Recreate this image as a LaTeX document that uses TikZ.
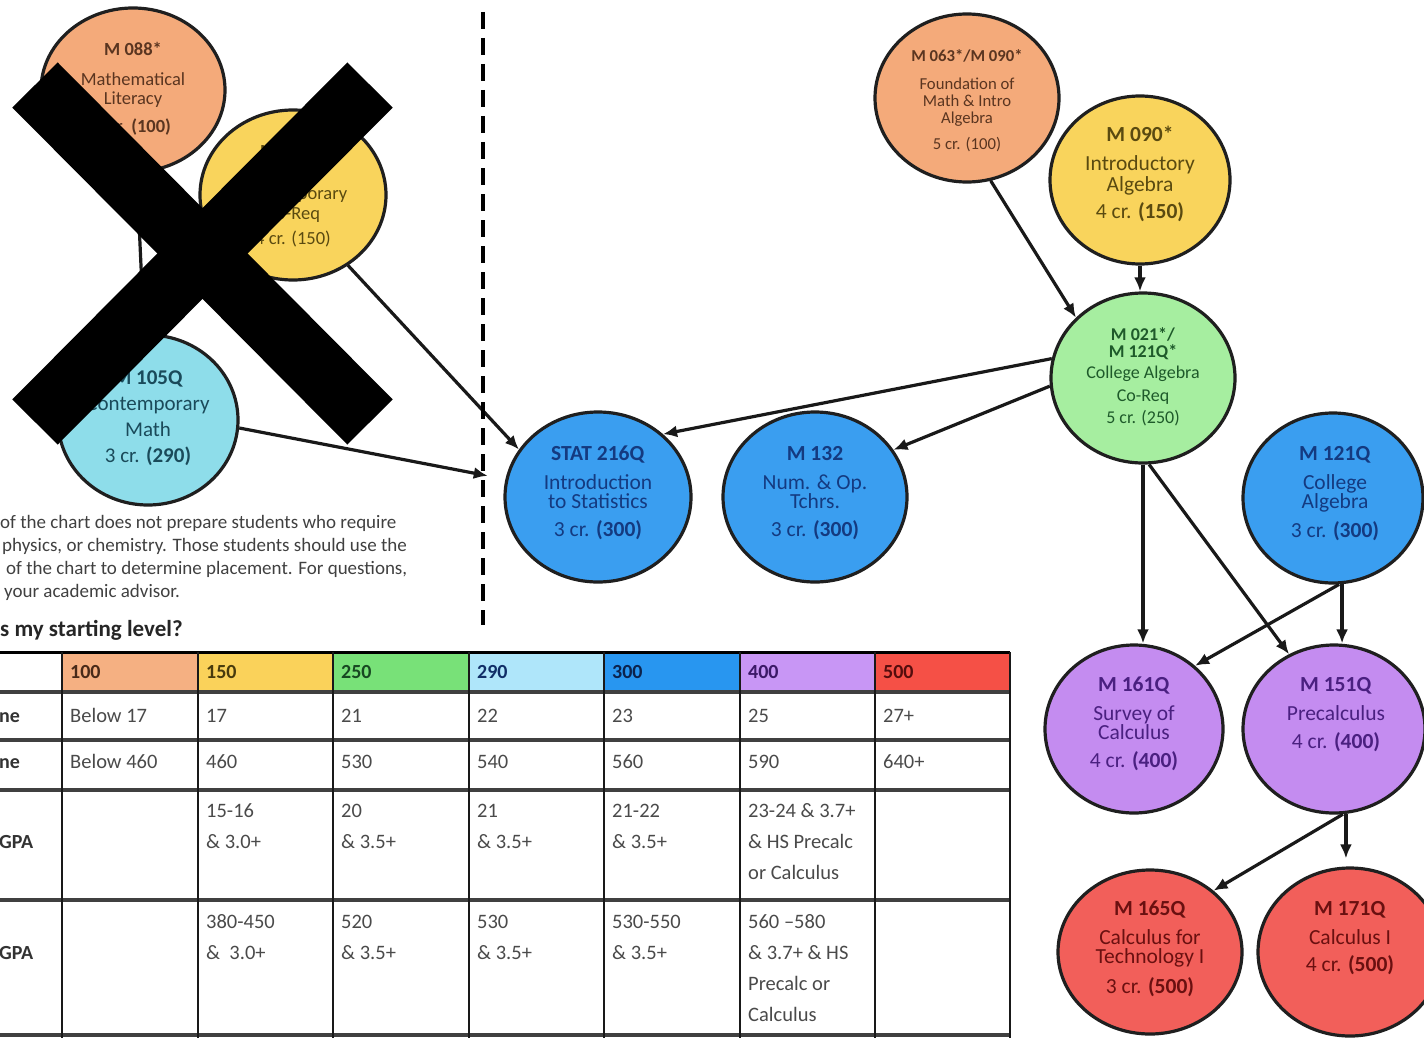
\documentclass[tikz,border=0pt]{standalone}
\usepackage{fontspec}
\setmainfont{Carlito}
\usetikzlibrary{shapes.geometric,arrows.meta}
\definecolor{corange}{HTML}{F4AA7A}
\definecolor{cyellow}{HTML}{F9D45C}
\definecolor{ccyan}{HTML}{8EDDEA}
\definecolor{cgreen}{HTML}{A6EEA0}
\definecolor{cblue}{HTML}{3A9EF0}
\definecolor{cpurple}{HTML}{C48CF0}
\definecolor{cred}{HTML}{F25F5A}
\definecolor{h100}{HTML}{F5B082}
\definecolor{h150}{HTML}{FAD25A}
\definecolor{h250}{HTML}{78E178}
\definecolor{h290}{HTML}{AFE6FA}
\definecolor{h300}{HTML}{2896F0}
\definecolor{h400}{HTML}{C896F5}
\definecolor{h500}{HTML}{F55046}
\definecolor{tbrown}{HTML}{5A3520}
\definecolor{tolive}{HTML}{5A4A10}
\definecolor{tgreen}{HTML}{1E5A2A}
\definecolor{tteal}{HTML}{1A4A5A}
\definecolor{tnavy}{HTML}{143A80}
\definecolor{tpurple}{HTML}{4A2080}
\definecolor{tred}{HTML}{6A1010}
\definecolor{tgrey}{HTML}{4A4A4A}
\newcommand\setfs[2]{\fontsize{#1}{#2}\selectfont}
\begin{document}
\begin{tikzpicture}[x=1pt,y=-1pt,
  course/.style={ellipse, draw=black!88, line width=3.2pt, inner sep=0pt, minimum width=184pt, minimum height=168pt},
  ctext/.style={align=center, inner sep=0pt, anchor=north},
  conn/.style={line width=3.2pt, draw=black!90, -{Latex[length=14pt,width=12pt]}},
  cell/.style={anchor=base west, inner sep=0pt, text=tgrey, font=\setfs{20.5}{22}},
  hcell/.style={anchor=base west, inner sep=0pt, font=\setfs{20}{22}\bfseries},
  para/.style={anchor=base west, inner sep=0pt, text=black!75, font=\setfs{19}{21}},
  tabh/.style={line width=3.5pt, draw=black!75},
  tabv/.style={line width=2.4pt, draw=black!90}]
\useasboundingbox (0,0) rectangle (1424,1038);

% ---------- left circles ----------
\node[course, fill=corange, minimum width=184pt, minimum height=164pt] (m088) at (133,90) {};
\node[ctext, text=tbrown, font=\setfs{18.5}{19}] (m088t) at (133,42) {\textbf{M 088*}\\[11pt]Mathematical\\Literacy\\[9pt]4 cr. \textbf{(100)}};
\node[course, fill=cyellow, minimum width=186pt, minimum height=170pt] (yel) at (293,195) {};
\node[ctext, text=tolive, font=\setfs{18.5}{20}] (yelt) at (293,144) {\textbf{M 005*/}\\\textbf{M 105Q*}\\[2pt]Contemporary\\Co-Req\\[5pt]4 cr. (150)};
\node[course, fill=ccyan, minimum width=180pt, minimum height=170pt] (m105) at (148,420) {};
\node[ctext, text=tteal, font=\setfs{21}{26}] (m105t) at (148,371) {\textbf{M 105Q}\\Contemporary\\Math\\3 cr. \textbf{(290)}};

% ---------- middle circles ----------
\node[course, fill=cblue, minimum width=186pt, minimum height=170pt] (stat) at (598,497) {};
\node[ctext, text=tnavy, font=\setfs{21.5}{19}] (statt) at (598,446) {\textbf{STAT 216Q}\\[10pt]Introduction\\to Statistics\\[9pt]3 cr. \textbf{(300)}};
\node[course, fill=cblue, minimum width=184pt, minimum height=170pt] (m132) at (815,497) {};
\node[ctext, text=tnavy, font=\setfs{21.5}{19}] (m132t) at (815,446) {\textbf{M 132}\\[10pt]Num. \& Op.\\Tchrs.\\[9pt]3 cr. \textbf{(300)}};

% ---------- right circles ----------
\node[course, fill=corange, minimum width=184pt, minimum height=168pt] (m063) at (967,98) {};
\node[ctext, text=tbrown, font=\setfs{16.7}{17}] (m063t) at (967,49.5) {\textbf{M 063*/M 090*}\\[11pt]Foundation of\\Math \& Intro\\Algebra\\[9pt]5 cr. (100)};
\node[course, fill=cyellow, minimum width=180pt, minimum height=168pt] (m090) at (1140,180) {};
\node[ctext, text=tolive, font=\setfs{21.5}{20}] (m090t) at (1140,126) {\textbf{M 090*}\\[9pt]Introductory\\[1pt]Algebra\\[7pt]4 cr. \textbf{(150)}};
\node[course, fill=cgreen, minimum width=184pt, minimum height=170pt] (green) at (1143,378) {};
\node[ctext, text=tgreen, font=\setfs{18}{17}] (greent) at (1143,327.5) {\textbf{M 021*/}\\\textbf{M 121Q*}\\[4pt]College Algebra\\[6pt]Co-Req\\[5pt]5 cr. (250)};
\node[course, fill=cblue, minimum width=180pt, minimum height=170pt] (m121) at (1333,498) {};
\node[ctext, text=tnavy, font=\setfs{21.5}{19}] (m121t) at (1335,446) {\textbf{M 121Q}\\[10pt]College\\Algebra\\[9pt]3 cr. \textbf{(300)}};
\node[course, fill=cpurple, minimum width=178pt, minimum height=168pt] (m161) at (1134,729) {};
\node[ctext, text=tpurple, font=\setfs{21.5}{19}] (m161t) at (1134,677) {\textbf{M 161Q}\\[10pt]Survey of\\Calculus\\[9pt]4 cr. \textbf{(400)}};
\node[course, fill=cpurple, minimum width=182pt, minimum height=168pt] (m151) at (1334,729) {};
\node[ctext, text=tpurple, font=\setfs{21.5}{19}] (m151t) at (1336,677) {\textbf{M 151Q}\\[10pt]Precalculus\\[9pt]4 cr. \textbf{(400)}};
\node[course, fill=cred, minimum width=184pt, minimum height=164pt] (m165) at (1150,952) {};
\node[ctext, text=tred, font=\setfs{21.5}{19}] (m165t) at (1150,901) {\textbf{M 165Q}\\[10pt]Calculus for\\Technology I\\[9pt]3 cr. \textbf{(500)}};
\node[course, fill=cred, minimum width=184pt, minimum height=168pt] (m171) at (1350,952) {};
\node[ctext, text=tred, font=\setfs{21.5}{19}] (m171t) at (1350,901) {\textbf{M 171Q}\\[10pt]Calculus I\\[8pt]4 cr. \textbf{(500)}};

% ---------- connectors ----------
\draw[conn] (m088) -- (m105);
\draw[conn] (yel.-52) -- (stat.149);
\draw[conn, shorten >=18pt] (m105.-5) -- (stat);
\draw[conn] (m063.-74) -- (green.138.7);
\draw[conn] (m090.south) -- (m090.south |- green.north);
\draw[conn] (green.168.8) -- (stat.44);
\draw[conn] (green.185) -- (m132.31.4);
\draw[conn] (green.south) -- (green.south |- m161.north);
\draw[conn] (green.-86.7) -- (m151.121.4);
\draw[conn] (m121.-86.6) -- (m161.46.3);
\draw[conn] (m121.-84) -- (m121.-84 |- m151.north);
\draw[conn] (m151.-84) -- (m165.44.6);
\draw[conn, shorten >=8pt] (m151.-82) -- (m151.-82 |- m171.north);

% ---------- dashed divider ----------
\draw[line width=4pt, dash pattern=on 17pt off 9pt] (483,12) -- (483,625);

% ---------- paragraph ----------
\node[para] (p1) at (0,528) {of the chart does not prepare students who require};
\node[para] (p2) at (2,551) {physics, or chemistry. Those students should use the};
\node[para] (p3) at (6,574) {of the chart to determine placement. For questions,};
\node[para] (p4) at (4,597) {your academic advisor.};
\node[anchor=base west, inner sep=0pt, font=\setfs{23}{25}\bfseries, text=black!85] (hd) at (0,636) {s my starting level?};

% ---------- table ----------
\fill[h100] (62,652) rectangle (198,692);
\fill[h150] (198,652) rectangle (333,692);
\fill[h250] (333,652) rectangle (469,692);
\fill[h290] (469,652) rectangle (604,692);
\fill[h300] (604,652) rectangle (740,692);
\fill[h400] (740,652) rectangle (875,692);
\fill[h500] (875,652) rectangle (1010,692);
\draw[line width=3pt] (0,652) -- (1010,652);
\foreach \yy in {692,740,790,900,1035} \draw[tabh] (0,\yy) -- (1010,\yy);
\foreach \xx in {62,198,333,469,604,740,875,1010} \draw[tabv] (\xx,652) -- (\xx,1038);

\node[hcell, text=tbrown!80!black] (h1) at (70,678) {100};
\node[hcell, text=tolive!80!black] (h2) at (206,678) {150};
\node[hcell, text=tgreen!80!black] (h3) at (341,678) {250};
\node[hcell, text=tnavy!80!black] (h4) at (477,678) {290};
\node[hcell, text=tnavy!60!black] (h5) at (612,678) {300};
\node[hcell, text=tpurple!80!black] (h6) at (748,678) {400};
\node[hcell, text=tred!80!black] (h7) at (883,678) {500};

\node[hcell, text=black!80] (r1) at (-1,722) {ne};
\node[hcell, text=black!80] (r2) at (-1,768) {ne};
\node[hcell, text=black!80] (r3) at (-1,848) {GPA};
\node[hcell, text=black!80] (r4) at (-1,959) {GPA};

\foreach \xx/\yy/\tt [count=\i] in {
  70/722/Below 17, 206/722/17, 341/722/21, 477/722/22, 612/722/23, 748/722/25, 883/722/27+,
  70/768/Below 460, 206/768/460, 341/768/530, 477/768/540, 612/768/560, 748/768/590, 883/768/640+,
  206/817/15-16, 206/848/\& 3.0+, 341/817/20, 341/848/\& 3.5+, 477/817/21, 477/848/\& 3.5+,
  612/817/21-22, 612/848/\& 3.5+, 748/817/23-24 \& 3.7+, 748/848/\& HS Precalc, 748/879/or Calculus,
  206/928/380-450, 206/959/\&\ \ 3.0+, 341/928/520, 341/959/\& 3.5+, 477/928/530, 477/959/\& 3.5+,
  612/928/530-550, 612/959/\& 3.5+, 748/928/560 --580, 748/959/\& 3.7+ \& HS, 748/990/Precalc or, 748/1021/Calculus}
  \node[cell] (c\i) at (\xx,\yy) {\tt};

% ---------- crossing-out X ----------
\draw[line width=64pt, black] (35,85) -- (370,422);
\draw[line width=64pt, black] (370,85) -- (35,422);
\end{tikzpicture}
\end{document}
